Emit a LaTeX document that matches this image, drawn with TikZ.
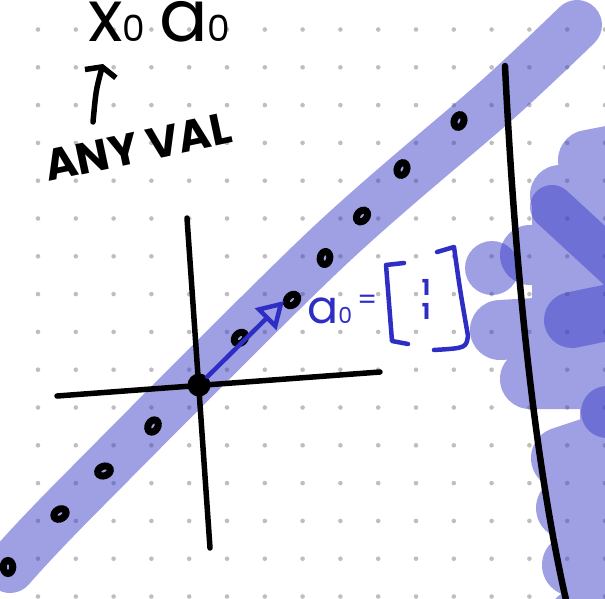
\documentclass[tikz,border=0pt]{standalone}
\usepackage{fontspec}
\newfontfamily\hand{Poppins}
\usetikzlibrary{arrows.meta}
\definecolor{pen}{RGB}{46,46,196}
\definecolor{hilite}{RGB}{63,65,201}
\definecolor{griddot}{RGB}{190,190,190}
\newcommand{\subdig}[2]{{\fontsize{#1}{#1}\selectfont #2}}

\begin{document}
\begin{tikzpicture}[x=1pt, y=-1pt,
  blk/.style={draw=black, line width=5.5pt, line cap=round, line join=round},
  bluepen/.style={draw=pen, line width=4.5pt, line cap=round, line join=round},
  ring/.style={draw=black, line width=7pt},
  marker/.style={hilite, opacity=.5, line cap=round, line join=round}]
  \clip (0,0) rectangle (605,598);
  % dotted paper
  \foreach \i in {0,...,15}
    \foreach \j in {0,...,15}
      \fill[griddot] (38+37.8*\i, 29.5+37.8*\j) circle (2.3pt);
  % highlighted line
  \draw[marker, line width=50pt] plot[smooth, tension=.5] coordinates {(10,568) (74,500) (325,250) (497,100) (577,25)};
  % blob on the right, first layer
  \begin{scope}[transparency group, opacity=.5]
    \draw[hilite, line width=60pt, line cap=round] (588,160) -- (640,150) (560,195) -- (640,195)
      (530,255) -- (640,255) (500,330) -- (640,322) (530,379) -- (640,379);
    \draw[hilite, line width=62pt, line cap=round] (562,458) -- (640,432) (567,508) -- (640,508)
      (573,565) -- (640,565) (578,620) -- (640,620);
    \fill[hilite] (532,205) rectangle (640,400) (580,400) rectangle (640,600);
  \end{scope}
  % second layer
  \fill[marker] (492,268) circle (27pt);
  \draw[marker, line width=44pt] (552,207) -- (640,288);
  \draw[marker, line width=56pt] (572,320) -- (630,308);
  \fill[marker] (607,412) circle (26pt);
  % axes
  \coordinate (xl) at (57,396);
  \coordinate (xr) at (380,372);
  \coordinate (yt) at (187,218);
  \coordinate (yb) at (210,548);
  \draw[blk] (xl) -- (xr);
  \draw[blk] (yt) -- (yb);
  \node[circle, fill=black, inner sep=0pt, minimum size=23pt] (o) at (199,385) {};
  % points on the line
  \foreach \x/\y/\r in {8/567/90, 60/514/30, 104/471/20, 153/426/60, 240/338/45,
                        292/300/45, 325/258/80, 362/216/50, 402/169/70, 459/121/70}
    \draw[ring, rotate around={\r:(\x,\y)}] (\x,\y) ellipse [x radius=6.5pt, y radius=4.8pt];
  % direction vector
  \coordinate (tip) at (284,301);
  \draw[bluepen, -{Triangle[open, length=26pt, width=30pt, line width=4.5pt]}] (o) -- (tip);
  \node[pen, font=\hand\fontsize{46}{46}\selectfont, anchor=base west, inner sep=0pt] (alab) at (307,323)
    {a\subdig{22}{0}\hspace{5pt}\raisebox{14pt}{\subdig{28}{=}}};
  \node[pen, font=\hand\bfseries\fontsize{22}{24}\selectfont, align=center, inner sep=0pt] (vec) at (426,299) {1\\1};
  \draw[bluepen] (404,263) -- (386,265) -- (392,341) -- (408,344);
  \draw[bluepen] (437,252) -- (454,247) .. controls (460,290) .. (468,336) .. controls (466,348) .. (434,350);
  % starting point label
  \node[font=\hand\fontsize{72}{72}\selectfont, anchor=base west, inner sep=0pt] (xa) at (88,41)
    {x\subdig{36}{0}\hspace{14pt}a\subdig{36}{0}};
  \node[font=\hand\bfseries\fontsize{44}{44}\selectfont, anchor=base west, rotate=12, inner sep=0pt] (anyval) at (48,182) {ANY VAL};
  \coordinate (up0) at (93,122);
  \coordinate (up1) at (103,64);
  \draw[blk, -{Straight Barb[width=32pt, length=7pt]}] (up0) .. controls (96,90) .. (up1);
  % boundary on the right
  \coordinate (rt) at (505,66);
  \coordinate (rb) at (566,600);
  \draw[blk, line width=6.5pt] (rt) .. controls (514,250) and (532,450) .. (rb);
\end{tikzpicture}
\end{document}
